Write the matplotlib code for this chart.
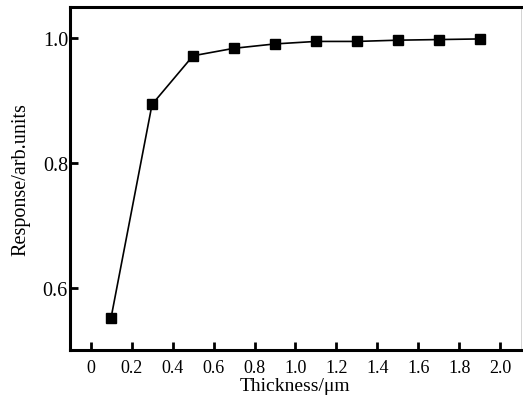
import matplotlib
matplotlib.use("Agg")
import matplotlib.pyplot as plt
from matplotlib.ticker import FixedLocator, FixedFormatter

# data
thickness = [0.1, 0.3, 0.5, 0.7, 0.9, 1.1, 1.3, 1.5, 1.7, 1.9]
response = [0.552, 0.894, 0.972, 0.984, 0.991, 0.995, 0.995, 0.997, 0.998, 0.999]
xticks = [0, 0.2, 0.4, 0.6, 0.8, 1.0, 1.2, 1.4, 1.6, 1.8, 2.0]
xtick_labels = ["0", "0.2", "0.4", "0.6", "0.8", "1.0", "1.2", "1.4", "1.6", "1.8", "2.0"]
yticks = [0.6, 0.8, 1.0]
ytick_labels = ["0.6", "0.8", "1.0"]

plt.rcParams["font.family"] = ["Liberation Serif", "DejaVu Serif"]

fig = plt.figure(figsize=(5.23, 4.06), dpi=100)
ax = fig.add_axes([0.134, 0.135, 0.862, 0.845])

ax.plot(thickness, response, color="black", linewidth=1.2,
        marker="s", markersize=7.5, markerfacecolor="black", markeredgecolor="black")

ax.set_xlim(-0.1, 2.1)
ax.set_ylim(0.5, 1.05)
ax.xaxis.set_major_locator(FixedLocator(xticks))
ax.xaxis.set_major_formatter(FixedFormatter(xtick_labels))
ax.yaxis.set_major_locator(FixedLocator(yticks))
ax.yaxis.set_major_formatter(FixedFormatter(ytick_labels))

ax.tick_params(direction="in", length=6, width=2, top=False, right=False)
ax.tick_params(axis="x", labelsize=13, pad=6)
ax.tick_params(axis="y", labelsize=14.5, pad=1.5)

for side in ["left", "bottom", "top"]:
    ax.spines[side].set_linewidth(2.2)
ax.spines["right"].set_linewidth(0.6)
ax.spines["right"].set_color("#cccccc")

ax.set_xlabel("Thickness/μm", fontsize=14, labelpad=1)
ax.set_ylabel("Response/arb.units", fontsize=14.5, labelpad=9)

fig.savefig("out.png", dpi=100)
